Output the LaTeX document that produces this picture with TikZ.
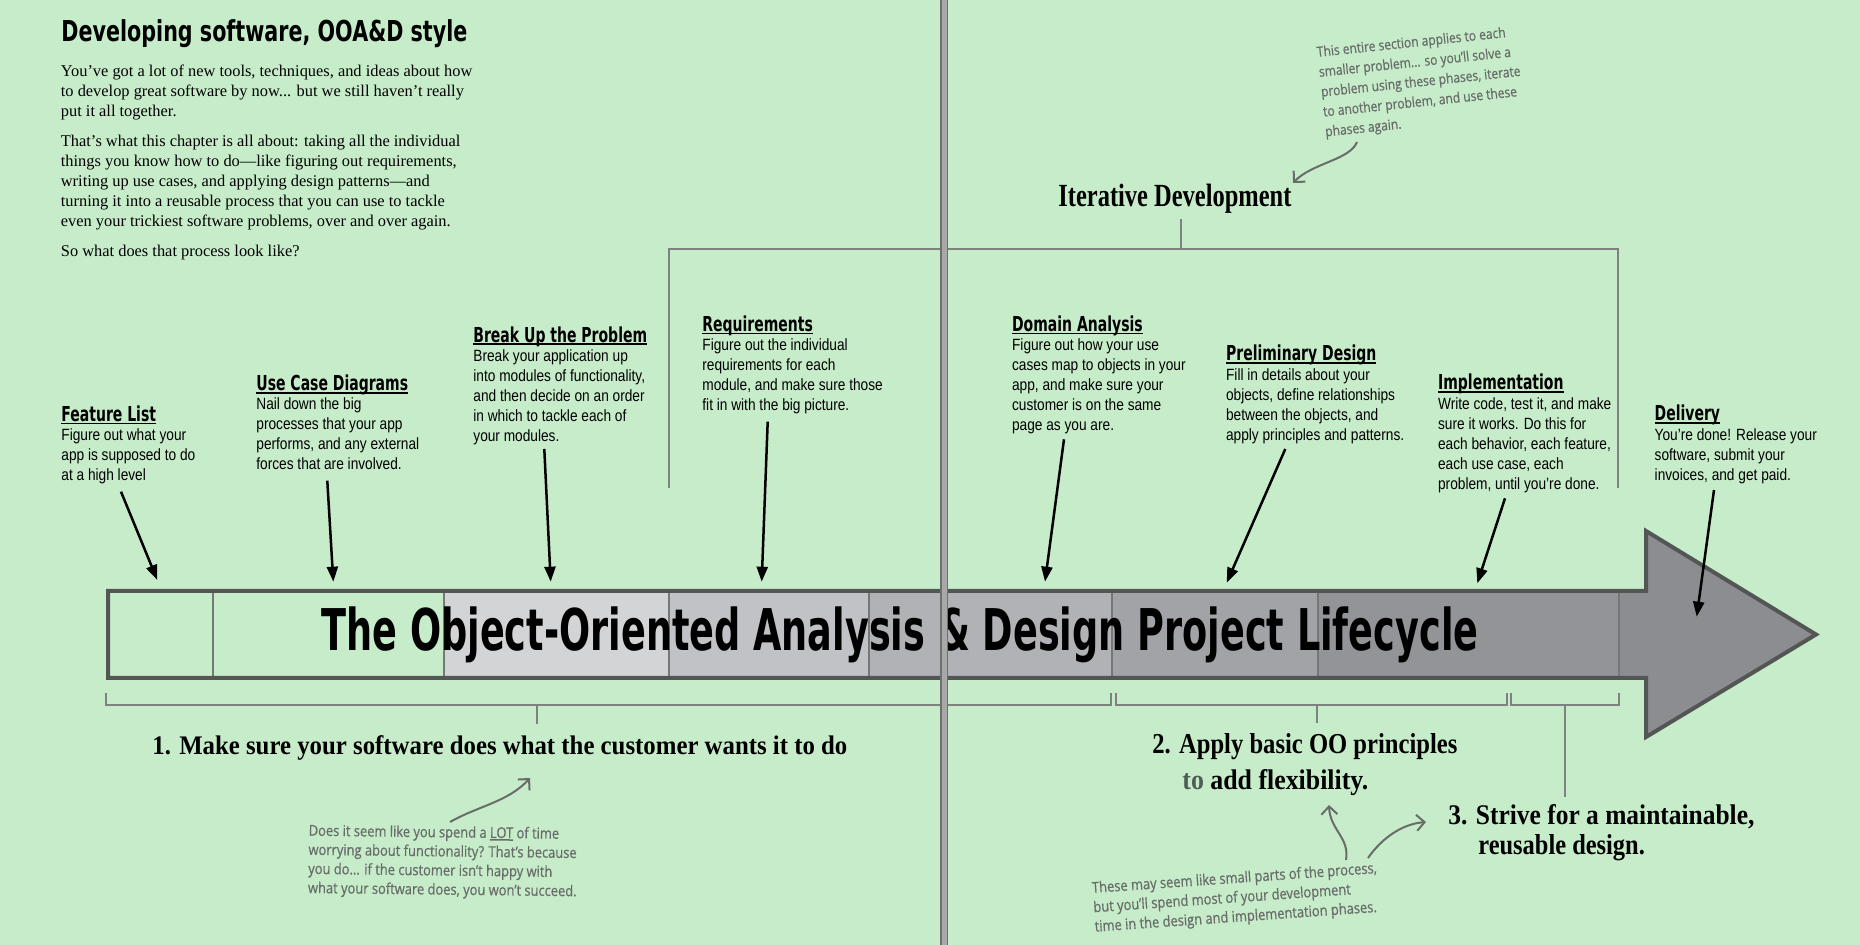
\documentclass[tikz,border=0pt]{standalone}
\usepackage{fontspec}
\usepackage{graphicx}
\usetikzlibrary{arrows.meta}
\setmainfont{Liberation Serif}
\newfontfamily\bodysans[FakeStretch=0.84]{Liberation Sans}
\newfontfamily\headfont[FakeStretch=0.68]{DejaVu Sans}
\newfontfamily\titlefont{DejaVu Sans}
\newfontfamily\notefont[FakeStretch=0.86,FakeBold=0.6]{Open Sans}
\definecolor{bg}{RGB}{199,236,202}
\definecolor{segA}{RGB}{211,212,214}
\definecolor{segB}{RGB}{193,194,197}
\definecolor{segC}{RGB}{177,178,181}
\definecolor{segD}{RGB}{162,163,166}
\definecolor{segE}{RGB}{147,148,151}
\definecolor{segF}{RGB}{140,141,144}
\definecolor{barline}{RGB}{84,86,86}
\definecolor{divline}{RGB}{118,120,120}
\definecolor{brk}{RGB}{126,129,128}
\definecolor{notegray}{RGB}{104,109,106}
\definecolor{togray}{RGB}{80,92,86}
\definecolor{gutterfill}{RGB}{168,168,168}
\definecolor{gutteredge}{RGB}{112,112,112}
\newcommand{\ulh}[1]{\setbox0\hbox{#1}\rlap{\rule[-1.3pt]{\wd0}{0.75pt}}\box0\relax}
\tikzset{
  phasehead/.style={anchor=base west, inner sep=0pt, font=\headfont\bfseries\fontsize{10.3pt}{12pt}\selectfont},
  phasebody/.style={anchor=base west, inner sep=0pt, font=\bodysans\fontsize{8.15pt}{10pt}\selectfont},
  callout/.style={line width=1.25pt, -{Triangle[length=7.5pt,width=5.5pt]}},
  bracketline/.style={draw=brk, line width=1pt},
  divider/.style={draw=divline, line width=0.75pt},
  fitted/.style={anchor=base west, inner sep=0pt},
  note/.style={anchor=base west, inner sep=0pt, text=notegray},
  notearrow/.style={draw=notegray, line width=1pt, -{Straight Barb[length=4pt,width=8pt]}},
}
\begin{document}
\begin{tikzpicture}[x=0.5pt,y=-0.5pt]
\useasboundingbox[fill=bg] (0,0) rectangle (1860,945);

% ---- top-left intro
\node[fitted] (devh) at (61,41.7) {\resizebox{203pt}{10.95pt}{\titlefont\bfseries Developing software, OOA\&D style}};
\node[anchor=base west, inner sep=0pt, font=\fontsize{8.2pt}{10pt}\selectfont] (intro) at (60.5,77) {\begin{tabular}[t]{@{}l@{}}
You’ve got a lot of new tools, techniques, and ideas about how\\
to develop great software by now... but we still haven’t really\\
put it all together.\\[5pt]
That’s what this chapter is all about: taking all the individual\\
things you know how to do—like figuring out requirements,\\
writing up use cases, and applying design patterns—and\\
turning it into a reusable process that you can use to tackle\\
even your trickiest software problems, over and over again.\\[5pt]
So what does that process look like?
\end{tabular}};

% ---- bar segments
\fill[segA] (444,591) rectangle (669,678);
\fill[segB] (669,591) rectangle (869,678);
\fill[segC] (869,591) rectangle (1112,678);
\fill[segD] (1112,591) rectangle (1318,678);
\fill[segE] (1318,591) rectangle (1619,678);
\fill[segF] (1619,591) -- (1646,591) -- (1646,531) -- (1816,634.5) -- (1646,737) -- (1646,678) -- (1619,678) -- cycle;
\foreach \dx in {213,444,669,869,1112,1318,1619}{\draw[divider] (\dx,591) -- (\dx,678);}
\draw[barline, line width=2pt] (108,591) -- (1646,591) -- (1646,531) -- (1816,634.5) -- (1646,737) -- (1646,678) -- (108,678) -- cycle;
\node[fitted] (title) at (321,651) {\resizebox{578.5pt}{21.85pt}{\titlefont\bfseries The Object-Oriented Analysis \& Design Project Lifecycle}};

% ---- iterative development bracket
\node[fitted] (itd) at (1058,206.7) {\resizebox{116.5pt}{11.2pt}{\bfseries Iterative Development}};
\coordinate (itick) at (1180.8,219.3);
\coordinate (itop) at (1180.8,249.3);
\draw[bracketline] (668.7,488) -- (668.7,249.3) -- (1618,249.3) -- (1618,488);
\draw[bracketline] (itop) -- (itick);

% ---- phases
\node[phasehead] (flh) at (61,421.7) {\ulh{Feature List}};
\node[phasebody] (flb) at (61,440.7) {\begin{tabular}[t]{@{}l@{}}Figure out what your\\ app is supposed to do\\ at a high level\end{tabular}};
\node[phasehead] (uch) at (256,391) {\ulh{Use Case Diagrams}};
\node[phasebody] (ucb) at (256,410) {\begin{tabular}[t]{@{}l@{}}Nail down the big\\ processes that your app\\ performs, and any external\\ forces that are involved.\end{tabular}};
\node[phasehead] (buh) at (473,342.3) {\ulh{Break Up the Problem}};
\node[phasebody] (bub) at (473,361.7) {\begin{tabular}[t]{@{}l@{}}Break your application up\\ into modules of functionality,\\ and then decide on an order\\ in which to tackle each of\\ your modules.\end{tabular}};
\node[phasehead] (rqh) at (702,331.7) {\ulh{Requirements}};
\node[phasebody] (rqb) at (702,350.7) {\begin{tabular}[t]{@{}l@{}}Figure out the individual\\ requirements for each\\ module, and make sure those\\ fit in with the big picture.\end{tabular}};
\node[phasehead] (dah) at (1011.7,331.7) {\ulh{Domain Analysis}};
\node[phasebody] (dab) at (1011.7,350.7) {\begin{tabular}[t]{@{}l@{}}Figure out how your use\\ cases map to objects in your\\ app, and make sure your\\ customer is on the same\\ page as you are.\end{tabular}};
\node[phasehead] (pdh) at (1225.7,361) {\ulh{Preliminary Design}};
\node[phasebody] (pdb) at (1225.7,380.7) {\begin{tabular}[t]{@{}l@{}}Fill in details about your\\ objects, define relationships\\ between the objects, and\\ apply principles and patterns.\end{tabular}};
\node[phasehead] (imh) at (1437.7,390) {\ulh{Implementation}};
\node[phasebody] (imb) at (1437.7,409.3) {\begin{tabular}[t]{@{}l@{}}Write code, test it, and make\\ sure it works. Do this for\\ each behavior, each feature,\\ each use case, each\\ problem, until you’re done.\end{tabular}};
\node[phasehead] (dlh) at (1654.3,421) {\ulh{Delivery}};
\node[phasebody] (dlb) at (1654.3,440.7) {\begin{tabular}[t]{@{}l@{}}You’re done! Release your\\ software, submit your\\ invoices, and get paid.\end{tabular}};

% ---- phase arrows
\coordinate (fls) at (121,491.7);   \coordinate (fle) at (157.3,580);
\coordinate (ucs) at (327.3,480.7); \coordinate (uce) at (333.3,581.7);
\coordinate (bus) at (544.3,449);   \coordinate (bue) at (550.7,581.7);
\coordinate (rqs) at (767.7,421.7); \coordinate (rqe) at (761.7,581.7);
\coordinate (das) at (1064,439.3);  \coordinate (dae) at (1045,581.7);
\coordinate (pds) at (1285.3,449);  \coordinate (pde) at (1226.7,582.7);
\coordinate (ims) at (1505,498.3);  \coordinate (ime) at (1477.3,583.3);
\coordinate (dls) at (1714,490);    \coordinate (dle) at (1696.7,616.7);
\foreach \a in {fl,uc,bu,rq,da,pd,im,dl}{\draw[callout] (\a s) -- (\a e);}

% ---- bottom brackets
\draw[bracketline] (106,693) -- (106,705) -- (1111,705) -- (1111,693);
\draw[bracketline] (1116,693) -- (1116,705) -- (1507,705) -- (1507,693);
\draw[bracketline] (1511,693) -- (1511,705) -- (1619,705) -- (1619,693);
\coordinate (b1t) at (536.7,705); \coordinate (b1b) at (536.7,724);
\coordinate (b2t) at (1317,705);  \coordinate (b2b) at (1317,723);
\coordinate (b3t) at (1564.5,705); \coordinate (b3b) at (1564.5,797);
\draw[bracketline] (b1t) -- (b1b);
\draw[bracketline] (b2t) -- (b2b);
\draw[bracketline] (b3t) -- (b3b);

\node[fitted] (g1) at (152,755) {\resizebox{347.5pt}{9.45pt}{\bfseries 1. Make sure your software does what the customer wants it to do}};
\node[fitted] (g2a) at (1152,754) {\resizebox{152.5pt}{10pt}{\bfseries 2. Apply basic OO principles}};
\node[fitted] (g2b) at (1182,790) {\resizebox{93pt}{10pt}{\bfseries {\color{togray}to} add flexibility.}};
\node[fitted] (g3a) at (1448,825) {\resizebox{153pt}{10pt}{\bfseries 3. Strive for a maintainable,}};
\node[fitted] (g3b) at (1478,855) {\resizebox{83.25pt}{10pt}{\bfseries reusable design.}};

% ---- notes
\node[note, rotate=6, font=\notefont\fontsize{7pt}{10pt}\selectfont] (n1) at (1317,57) {\begin{tabular}[t]{@{}l@{}}This entire section applies to each\\ smaller problem... so you’ll solve a\\ problem using these phases, iterate\\ to another problem, and use these\\ phases again.\end{tabular}};
\coordinate (n1s) at (1357,142); \coordinate (n1e) at (1293,183);
\draw[notearrow] (n1s) .. controls (1350,160) and (1312,163) .. (n1e);

\node[note, rotate=-0.7, font=\notefont\fontsize{7.5pt}{9.55pt}\selectfont] (n2) at (308.3,835.7) {\begin{tabular}[t]{@{}l@{}}Does it seem like you spend a \ulh{LOT} of time\\ worrying about functionality? That’s because\\ you do... if the customer isn’t happy with\\ what your software does, you won’t succeed.\end{tabular}};
\coordinate (n2s) at (450,822); \coordinate (n2e) at (530,778);
\draw[notearrow] (n2s) .. controls (478,806) and (508,802) .. (n2e);

\node[note, rotate=4, font=\notefont\fontsize{7.5pt}{9.7pt}\selectfont] (n3) at (1092,893) {\begin{tabular}[t]{@{}l@{}}These may seem like small parts of the process,\\ but you’ll spend most of your development\\ time in the design and implementation phases.\end{tabular}};
\coordinate (n3as) at (1346,860); \coordinate (n3ae) at (1329,805);
\coordinate (n3bs) at (1368,858); \coordinate (n3be) at (1426,822);
\draw[notearrow] (n3as) .. controls (1350,838) and (1330,830) .. (n3ae);
\draw[notearrow] (n3bs) .. controls (1382,838) and (1402,824) .. (n3be);

% ---- page gutter
\fill[gutterfill] (941,0) rectangle (947.5,945);
\draw[gutteredge, line width=0.6pt] (941,0) -- (941,945) (947.5,0) -- (947.5,945);
\end{tikzpicture}
\end{document}
